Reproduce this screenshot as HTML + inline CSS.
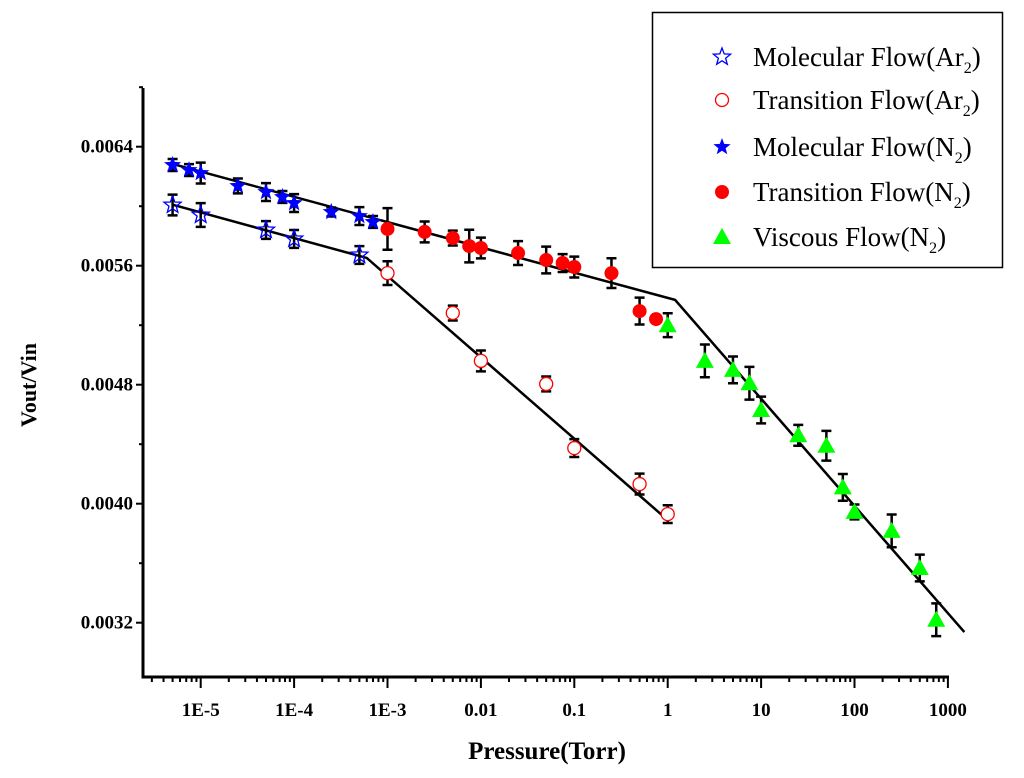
<!DOCTYPE html>
<html><head><meta charset="utf-8"><style>
html,body{margin:0;padding:0;background:#fff;}
svg{display:block;font-family:"Liberation Serif",serif;}
</style></head><body>
<svg id="chart" width="1024" height="778" viewBox="0 0 1024 778">
<g id="axes"></g>
<g id="fits"></g>
<g id="marks"></g>
<text x="547" y="759" text-anchor="middle" font-size="25" font-weight="bold">Pressure(Torr)</text>
<text transform="translate(36,385) rotate(-90)" text-anchor="middle" font-size="22" font-weight="bold">Vout/Vin</text>
<g>
<rect x="652.5" y="12.5" width="350" height="255" fill="#fff" stroke="#000" stroke-width="1.5"/>
<g id="legend-items"></g>
</g>
</svg>
<script>
// ---- data ----
const arMolX = [5e-6, 1e-5, 5e-5, 1e-4, 5e-4];
const arMolY = [0.006008, 0.005941, 0.00584, 0.00578, 0.005672];
const arMolE = [0.00007, 0.00008, 0.00006, 0.00006, 0.00006];
const arTrX = [1e-3, 5e-3, 0.01, 0.05, 0.1, 0.5, 1];
const arTrY = [0.00555, 0.005282, 0.00496, 0.004805, 0.004374, 0.004132, 0.00393];
const arTrE = [0.00008, 0.00005, 0.00007, 0.00005, 0.00006, 0.00007, 0.00006];
const n2MolX = [5e-6, 7.5e-6, 1e-5, 2.5e-5, 5e-5, 7.5e-5, 1e-4, 2.5e-4, 5e-4, 7e-4];
const n2MolY = [0.006277, 0.006243, 0.006223, 0.006136, 0.006095, 0.006062, 0.006021, 0.005961, 0.005934, 0.005894];
const n2MolE = [0.00004, 0.00004, 0.00007, 0.00005, 0.00006, 0.00004, 0.00006, 0.00003, 0.00006, 0.00004];
const n2TrX = [1e-3, 2.5e-3, 5e-3, 7.5e-3, 0.01, 0.025, 0.05, 0.075, 0.1, 0.25, 0.5, 0.75];
const n2TrY = [0.005847, 0.005827, 0.005786, 0.005732, 0.005719, 0.005685, 0.005638, 0.005618, 0.005591, 0.00555, 0.005295, 0.005241];
const n2TrE = [0.00014, 0.00007, 0.00005, 0.00011, 0.00007, 0.00008, 0.00009, 0.00006, 0.00007, 0.0001, 0.00009, 0.00002];
const viscX = [1, 2.5, 5, 7.5, 10, 25, 50, 75, 100, 250, 500, 750];
const viscY = [0.0052, 0.00496, 0.0049, 0.00481, 0.00463, 0.00446, 0.00439, 0.00411, 0.003945, 0.003817, 0.003568, 0.00322];
const viscE = [0.00008, 0.00011, 0.00009, 0.00011, 0.00009, 0.00007, 0.0001, 0.00009, 0.00005, 0.00011, 0.00009, 0.00011];
const fitArX = [5e-6, 6e-4, 1];
const fitArY = [0.00601, 0.005652, 0.00389];
const fitN2X = [5e-6, 1.2, 1500];
const fitN2Y = [0.006284, 0.00537, 0.003137];
const xTickVals = [1e-5, 1e-4, 1e-3, 0.01, 0.1, 1, 10, 100, 1000];
const xTickLabels = ["1E-5", "1E-4", "1E-3", "0.01", "0.1", "1", "10", "100", "1000"];
const yTickVals = [0.0032, 0.0040, 0.0048, 0.0056, 0.0064];
const yTickLabels = ["0.0032", "0.0040", "0.0048", "0.0056", "0.0064"];

// ---- scales ----
const X0 = 143, X1 = 949, Y0 = 677, Y1 = 88;
const xs = v => 200.7 + (Math.log10(v) + 5) * 93.4;
const ys = v => 146.7 + (0.0064 - v) * 148750;
const NS = "http://www.w3.org/2000/svg";
function mk(tag, attrs, parent) {
  const e = document.createElementNS(NS, tag);
  for (const k in attrs) e.setAttribute(k, attrs[k]);
  parent.appendChild(e);
  return e;
}
const axes = document.getElementById('axes');
let a = mk('path', {d: `M${X0} ${Y1}V${Y0}H${X1}`, fill: 'none', stroke: '#000', 'stroke-width': 3}, axes);


for (let d = -6; d <= 3; d++) {
  for (let m = 1; m <= 9; m++) {
    const v = m * Math.pow(10, d);
    const x = xs(v);
    if (x < X0 + 3 || x > X1 + 1) continue;
    const t = mk('line', {x1: x, x2: x, y1: Y0, y2: Y0 + (m === 1 ? 11 : 5), stroke: '#000', 'stroke-width': 2}, axes);
    
    
  }
}
xTickVals.forEach((v, i) => {
  const t = mk('text', {x: xs(v), y: 716, 'text-anchor': 'middle', 'font-size': 19, 'font-weight': 'bold'}, axes);
  t.textContent = xTickLabels[i];
  
  
});
for (let v = 0.0028; v <= 0.00681; v += 0.0004) {
  const y = ys(v);
  if (y > Y0 - 2 || y < Y1 - 1) continue;
  const major = Math.abs(Math.round(v / 0.0008) * 0.0008 - v) < 1e-7;
  const t = mk('line', {x1: X0, x2: X0 - (major ? 7 : 4), y1: y, y2: y, stroke: '#000', 'stroke-width': 2}, axes);
  
  
}
yTickVals.forEach((v, i) => {
  const t = mk('text', {x: 133, y: ys(v) + 6, 'text-anchor': 'end', 'font-size': 19, 'font-weight': 'bold'}, axes);
  t.textContent = yTickLabels[i];
  
  
});
const fits = document.getElementById('fits');
[[fitArX, fitArY, 'fit-line-ar'], [fitN2X, fitN2Y, 'fit-line-n2']].forEach(([fx, fy, nm]) => {
  const p = mk('polyline', {points: fx.map((v, i) => xs(v) + ',' + ys(fy[i])).join(' '), fill: 'none', stroke: '#000', 'stroke-width': 2.5}, fits);
  
  
});
function starPts(cx, cy, R) {
  const r = R * 0.42, pts = [];
  for (let i = 0; i < 10; i++) {
    const ang = -Math.PI / 2 + i * Math.PI / 5, rr = i % 2 ? r : R;
    pts.push((cx + rr * Math.cos(ang)).toFixed(1) + ',' + (cy + rr * Math.sin(ang)).toFixed(1));
  }
  return pts.join(' ');
}
function marker(kind, cx, cy, parent) {
  if (kind === 'ostar') return mk('polygon', {points: starPts(cx, cy, 9), fill: 'none', stroke: '#00f', 'stroke-width': 1.3}, parent);
  if (kind === 'fstar') return mk('polygon', {points: starPts(cx, cy, 9), fill: '#00f'}, parent);
  if (kind === 'ocirc') return mk('circle', {cx, cy, r: 6.5, fill: '#fff', stroke: '#f00', 'stroke-width': 1.3}, parent);
  if (kind === 'fcirc') return mk('circle', {cx, cy, r: 7, fill: '#f00'}, parent);
  return mk('polygon', {points: `${cx},${cy - 9} ${cx + 9},${cy + 7} ${cx - 9},${cy + 7}`, fill: '#0f0'}, parent);
}
const marks = document.getElementById('marks');
const series = [
  [arMolX, arMolY, arMolE, 'ostar', 'molecular-ar'],
  [arTrX, arTrY, arTrE, 'ocirc', 'transition-ar'],
  [n2MolX, n2MolY, n2MolE, 'fstar', 'molecular-n2'],
  [n2TrX, n2TrY, n2TrE, 'fcirc', 'transition-n2'],
  [viscX, viscY, viscE, 'tri', 'viscous-n2']
];
series.forEach(([sx, sy, se, kind, nm]) => {
  const g = mk('g', {}, marks);
  
  
  sx.forEach((v, i) => {
    const x = xs(v), yt = ys(sy[i] + se[i]), yb = ys(sy[i] - se[i]);
    const eb = mk('path', {d: `M${x} ${yt}V${yb}M${x - 5} ${yt}h10M${x - 5} ${yb}h10`, stroke: '#000', 'stroke-width': 2.5, fill: 'none'}, g);
    
    
    const m = marker(kind, x, ys(sy[i]), g);
    
    
  });
});
const legendKinds = ['ostar', 'ocirc', 'fstar', 'fcirc', 'tri'];
const legendMain = ['Molecular Flow(Ar', 'Transition Flow(Ar', 'Molecular Flow(N', 'Transition Flow(N', 'Viscous Flow(N'];
const legendRows = [57, 100, 147, 192, 237];
const li = document.getElementById('legend-items');
legendKinds.forEach((k, i) => {
  const g = mk('g', {}, li);
  
  
  marker(k, 722, legendRows[i], g);
  const t = mk('text', {x: 753, y: legendRows[i] + 9, 'font-size': 27}, g);
  t.appendChild(document.createTextNode(legendMain[i]));
  const s = mk('tspan', {'font-size': 16, dy: 7}, t);
  s.textContent = '2';
  const c = mk('tspan', {dy: -7}, t);
  c.textContent = ')';
});
</script>
</body></html>
